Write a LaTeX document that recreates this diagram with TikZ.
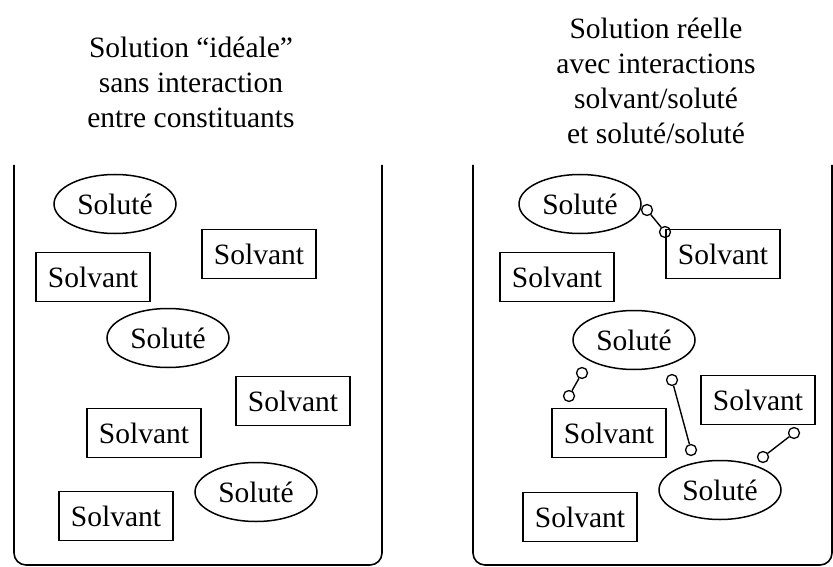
\documentclass[tikz,border=0pt]{standalone}
\usepackage{fontspec}
\setmainfont{Liberation Serif}
\usetikzlibrary{shapes.geometric,
		positioning}
\tikzset{
	%Define style for the solvent boxes
	solv/.style={
	       rectangle,
	       draw=black, line width=1.5pt,
	       minimum width=114pt,
	       minimum height=49pt,
	       inner sep=0pt,
	       font=\fontsize{29.5}{35}\selectfont},
	%Define style for the solute ellipses
	solu/.style={
	       ellipse,
	       draw=black, line width=1.5pt,
	       minimum width=122pt,
	       minimum height=59pt,
	       inner sep=0pt,
	       font=\fontsize{29.5}{35}\selectfont},
	bille/.style={
	       circle,
	       draw=black, line width=1.3pt,
	       minimum size=11pt,
	       inner sep=0pt},
	% Define link style
	lien/.style={
	       line width=1.4pt},
	titre/.style={
	       align=center,
	       font=\fontsize{29.5}{35}\selectfont},
	bac/.style={
	       line width=1.6pt,
	       rounded corners=12pt}
}

\begin{document}
\begin{tikzpicture}[x=1pt, y=-1pt]
		\useasboundingbox (0,0) rectangle (833,567);
		% ideal solution
		\node[titre] (titre_ideal) at (191,82) {Solution “idéale”\\sans interaction\\entre constituants};
		\draw[bac] (14,165) -- (14,565) -- (382,565) -- (382,165);
		\node[solu] (i_solu1) at (115,204) {Soluté};
		\node[solv] (i_solv1) at (259,254) {Solvant};
		\node[solv] (i_solv2) at (93,277) {Solvant};
		\node[solu] (i_solu2) at (168,338) {Soluté};
		\node[solv] (i_solv3) at (293,401) {Solvant};
		\node[solv] (i_solv4) at (144,433) {Solvant};
		\node[solu] (i_solu3) at (256,492) {Soluté};
		\node[solv] (i_solv5) at (116,516) {Solvant};
		% real solution
		\node[titre] (titre_reel) at (656,81) {Solution réelle\\avec interactions\\solvant/soluté\\et soluté/soluté};
		\draw[bac] (473,165) -- (473,565) -- (832,565) -- (832,165);
		\node[solu] (r_solu1) at (580,204) {Soluté};
		\node[solv] (r_solv1) at (723,254) {Solvant};
		\node[solv] (r_solv2) at (557,277) {Solvant};
		\node[solu] (r_solu2) at (634,340) {Soluté};
		\node[solv] (r_solv3) at (758,400) {Solvant};
		\node[solv] (r_solv4) at (609,433) {Solvant};
		\node[solu] (r_solu3) at (720,490) {Soluté};
		\node[solv] (r_solv5) at (580,517) {Solvant};
		% interactions
		\node[bille] (b1a) at (647,210) {};
		\node[bille] (b1b) at (665,232) {};
		\draw[lien] (b1a) -- (b1b);
		\node[bille] (b2a) at (582,373) {};
		\node[bille] (b2b) at (569,396) {};
		\draw[lien] (b2a) -- (b2b);
		\node[bille] (b3a) at (672,380) {};
		\node[bille] (b3b) at (691,450) {};
		\draw[lien] (b3a) -- (b3b);
		\node[bille] (b4a) at (794,433) {};
		\node[bille] (b4b) at (763,457) {};
		\draw[lien] (b4a) -- (b4b);
\end{tikzpicture}
\end{document}
